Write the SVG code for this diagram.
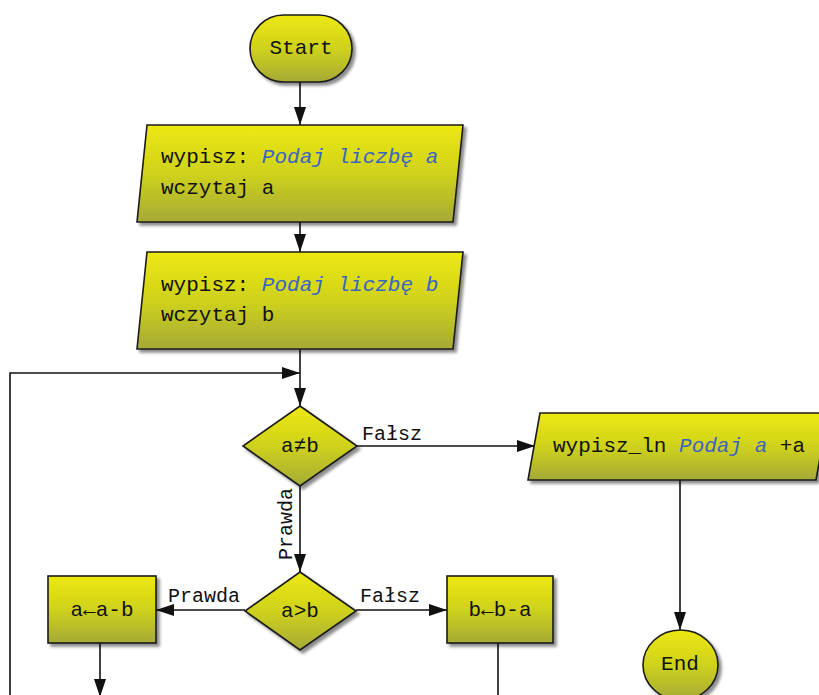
<svg xmlns="http://www.w3.org/2000/svg" width="819" height="695" viewBox="0 0 819 695">
<style>
.node{fill:url(#g);stroke:#1a1a1a;stroke-width:1.6;filter:url(#sh)}
.t{font-family:"Liberation Mono","DejaVu Sans Mono",monospace;font-size:21px;fill:#111}
.lb{font-family:"Liberation Mono","DejaVu Sans Mono",monospace;font-size:20px;fill:#111}
.em{fill:#3a63c4;font-style:italic}
.c{fill:none;stroke:#111;stroke-width:1.6}
</style>
<defs>
<linearGradient id="g" x1="0" y1="0" x2="0" y2="1">
<stop offset="0" stop-color="#ede810"/>
<stop offset="0.5" stop-color="#cfd21c"/>
<stop offset="1" stop-color="#a5aa36"/>
</linearGradient>
<filter id="sh" x="-10%" y="-10%" width="130%" height="130%">
<feDropShadow dx="3" dy="3" stdDeviation="1.5" flood-color="#000" flood-opacity="0.45"/>
</filter>
<marker id="ar" markerUnits="userSpaceOnUse" markerWidth="18" markerHeight="12" refX="18" refY="6" orient="auto">
<path d="M0,0 L18,6 L0,12 z" fill="#111"/>
</marker>
</defs>
<rect width="819" height="695" fill="#fff"/>
<g id="connectors">
<line class="c" x1="300" y1="82" x2="300" y2="125" marker-end="url(#ar)"/>
<line class="c" x1="300" y1="222" x2="300" y2="252" marker-end="url(#ar)"/>
<line class="c" x1="300" y1="349" x2="300" y2="406" marker-end="url(#ar)"/>
<polyline class="c" points="10,700 10,373 300,373" marker-end="url(#ar)"/>
<line class="c" x1="357" y1="446" x2="535" y2="446" marker-end="url(#ar)"/>
<line class="c" x1="680" y1="480" x2="680" y2="630" marker-end="url(#ar)"/>
<line class="c" x1="300" y1="486" x2="300" y2="572" marker-end="url(#ar)"/>
<line class="c" x1="245" y1="610" x2="156" y2="610" marker-end="url(#ar)"/>
<line class="c" x1="356" y1="610" x2="447" y2="610" marker-end="url(#ar)"/>
<line class="c" x1="100" y1="643" x2="100" y2="697" marker-end="url(#ar)"/>
<line class="c" x1="498" y1="643" x2="498" y2="700"/>
<text class="lb" x="362" y="440">Fałsz</text>
<text class="lb" transform="translate(292,524) rotate(-90)" text-anchor="middle">Prawda</text>
<text class="lb" x="168" y="602">Prawda</text>
<text class="lb" x="360" y="602">Fałsz</text>
</g>
<g id="start">
<rect class="node" x="250" y="15" width="102" height="67" rx="33.5" ry="33.5"/>
<text class="t" x="301" y="54" text-anchor="middle">Start</text>
</g>
<g id="read-a">
<polygon class="node" points="147,125 463,125 453,222 137,222"/>
<text class="t" x="161" y="163">wypisz: <tspan class="em">Podaj liczbę a</tspan></text>
<text class="t" x="161" y="194">wczytaj a</text>
</g>
<g id="read-b">
<polygon class="node" points="147,252 463,252 453,349 137,349"/>
<text class="t" x="161" y="291">wypisz: <tspan class="em">Podaj liczbę b</tspan></text>
<text class="t" x="161" y="321">wczytaj b</text>
</g>
<g id="cond-neq">
<polygon class="node" points="300,406 357,446 300,486 243,446"/>
<text class="t" x="300" y="452" text-anchor="middle">a≠b</text>
</g>
<g id="print-a">
<polygon class="node" points="540,413 828,413 816,480 528,480"/>
<text class="t" x="553" y="452">wypisz_ln <tspan class="em">Podaj a</tspan> +a</text>
</g>
<g id="end">
<ellipse class="node" cx="680.5" cy="665" rx="37.5" ry="35"/>
<text class="t" x="680" y="670" text-anchor="middle">End</text>
</g>
<g id="cond-gt">
<polygon class="node" points="300,572 356,611 300,650 245,611"/>
<text class="t" x="300" y="617" text-anchor="middle">a&gt;b</text>
</g>
<g id="sub-a">
<rect class="node" x="48" y="576" width="108" height="67"/>
<text class="t" x="102" y="616" text-anchor="middle">a←a-b</text>
</g>
<g id="sub-b">
<rect class="node" x="447" y="576" width="106" height="67"/>
<text class="t" x="500" y="616" text-anchor="middle">b←b-a</text>
</g>
</svg>
